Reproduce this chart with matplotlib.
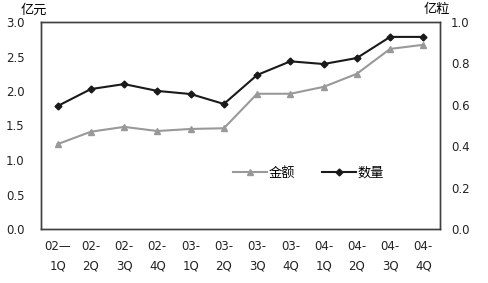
import matplotlib
matplotlib.use("Agg")
import matplotlib.pyplot as plt

plt.rcParams["font.family"] = ["DejaVu Sans", "Noto Sans CJK SC"]

quarters = ["02—\n1Q", "02-\n2Q", "02-\n3Q", "02-\n4Q", "03-\n1Q", "03-\n2Q",
            "03-\n3Q", "03-\n4Q", "04-\n1Q", "04-\n2Q", "04-\n3Q", "04-\n4Q"]
amount = [1.23, 1.41, 1.48, 1.42, 1.45, 1.46, 1.96, 1.96, 2.06, 2.25, 2.61, 2.67]  # 亿元
volume = [0.594, 0.676, 0.70, 0.667, 0.652, 0.604, 0.744, 0.81, 0.797, 0.826, 0.928, 0.928]  # 亿粒
left_ticks = [0.0, 0.5, 1.0, 1.5, 2.0, 2.5, 3.0]
right_ticks = [0.0, 0.2, 0.4, 0.6, 0.8, 1.0]

GRAY = "#999999"
BLACK = "#1a1a1a"
EDGE = "#404040"
CJK = ["Noto Sans CJK SC", "DejaVu Sans"]

fig = plt.figure(figsize=(4.88, 2.83), dpi=100)
ax = fig.add_axes([41 / 488, 1 - 229 / 283, 399 / 488, 207 / 283])
ax2 = ax.twinx()

x = range(len(quarters))
h1, = ax.plot(x, amount, color=GRAY, lw=1.5, marker="^", ms=5, label="金额")
h2, = ax2.plot(x, volume, color=BLACK, lw=1.5, marker="D", ms=3.5, label="数量")

ax.set_xlim(-0.5, len(quarters) - 0.5)
ax.set_ylim(0, 3)
ax2.set_ylim(0, 1)
ax.set_yticks(left_ticks)
ax.set_yticklabels([f"{v:.1f}" for v in left_ticks])
ax2.set_yticks(right_ticks)
ax2.set_yticklabels([f"{v:.1f}" for v in right_ticks])
ax.set_xticks(list(x))
ax.set_xticklabels(quarters, linespacing=1.6)

for a in (ax, ax2):
    a.tick_params(length=0, labelsize=8.5, colors="#222222")
    for s in a.spines.values():
        s.set_color(EDGE)
        s.set_linewidth(1)
ax.tick_params(axis="y", pad=12)
ax.tick_params(axis="x", pad=8)
ax2.tick_params(axis="y", pad=8)

fig.text(21 / 488, 1 - 10 / 283, "亿元", fontsize=9.5, va="center", ha="left", family=CJK)
fig.text(424 / 488, 1 - 10 / 283, "亿粒", fontsize=9.5, va="center", ha="left", family=CJK)

ax2.legend([h1, h2], ["金额", "数量"], loc="center", bbox_to_anchor=(0.67, 0.27),
           ncol=2, frameon=False, handlelength=2.6, handletextpad=0.1,
           columnspacing=2.0, prop={"family": CJK, "size": 9.5})

fig.savefig("out.png", dpi=100)
